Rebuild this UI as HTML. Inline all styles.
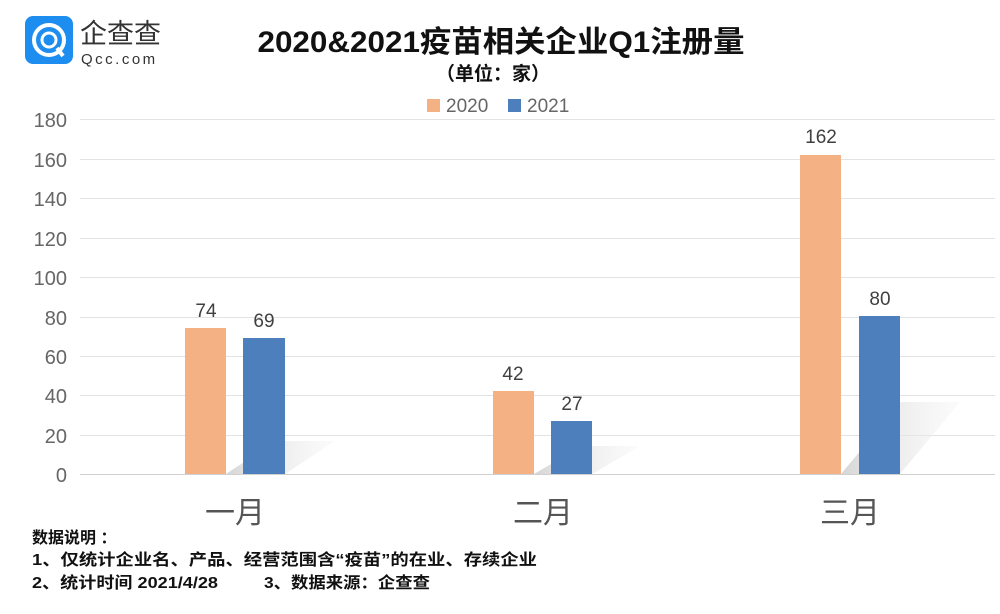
<!DOCTYPE html><html><head><meta charset="utf-8"><style>
body{margin:0;background:#fff;width:1000px;height:609px;overflow:hidden;font-family:"Liberation Sans","Noto Sans CJK SC",sans-serif}
</style></head><body>
<svg width="1000" height="609" xmlns="http://www.w3.org/2000/svg" font-family="Liberation Sans, Noto Sans CJK SC, sans-serif">
<defs><linearGradient id="sh" x1="0" y1="0" x2="1" y2="0"><stop offset="0" stop-color="#d6d6d6"/><stop offset="1" stop-color="#f2f2f2" stop-opacity="0.3"/></linearGradient></defs>
<rect x="25" y="16" width="48" height="48" rx="8" fill="#1d8ef0"/>
<circle cx="49" cy="40" r="15" fill="none" stroke="#fff" stroke-width="4"/>
<circle cx="49" cy="40" r="7" fill="none" stroke="#fff" stroke-width="3"/>
<line x1="57" y1="48" x2="63" y2="56" stroke="#fff" stroke-width="4"/>
<text x="80" y="43" font-size="27" fill="#333">企查查</text>
<text x="81" y="64" font-size="15" fill="#333" letter-spacing="2.5">Qcc.com</text>
<text x="501" y="52" font-size="30" font-weight="bold" text-anchor="middle" fill="#111" textLength="487" lengthAdjust="spacingAndGlyphs">2020&amp;2021疫苗相关企业Q1注册量</text>
<text x="493" y="80" font-size="19" font-weight="bold" text-anchor="middle" fill="#111">（单位：家）</text>
<rect x="427" y="99" width="13" height="13" fill="#f4b183"/><text x="446" y="112" font-size="19" fill="#666">2020</text>
<rect x="508" y="99" width="13" height="13" fill="#4e7fbd"/><text x="527" y="112" font-size="19" fill="#666">2021</text>
<g stroke="#e3e3e3" stroke-width="1">
<line x1="80" x2="995" y1="119.5" y2="119.5"/><line x1="80" x2="995" y1="159.5" y2="159.5"/><line x1="80" x2="995" y1="198.5" y2="198.5"/><line x1="80" x2="995" y1="238.5" y2="238.5"/><line x1="80" x2="995" y1="277.5" y2="277.5"/><line x1="80" x2="995" y1="317.5" y2="317.5"/><line x1="80" x2="995" y1="356.5" y2="356.5"/><line x1="80" x2="995" y1="395.5" y2="395.5"/><line x1="80" x2="995" y1="435.5" y2="435.5"/></g>
<line x1="80" x2="995" y1="474.5" y2="474.5" stroke="#d0d0d0"/>
<g font-size="20" fill="#666" text-anchor="end">
<text x="67" y="127">180</text><text x="67" y="167">160</text><text x="67" y="206">140</text><text x="67" y="246">120</text><text x="67" y="285">100</text><text x="67" y="325">80</text><text x="67" y="364">60</text><text x="67" y="403">40</text><text x="67" y="443">20</text><text x="67" y="482">0</text></g>
<g fill="url(#sh)">
<polygon points="226,474 285,474 335,441 276,441"/>
<polygon points="534,474 592,474 640,446 582,446"/>
<polygon points="841,474 900,474 960,402 901,402"/>
</g>
<rect x="185" y="328" width="41" height="146" fill="#f4b183"/>
<rect x="243" y="338" width="42" height="136" fill="#4e7fbd"/>
<rect x="493" y="391" width="41" height="83" fill="#f4b183"/>
<rect x="551" y="421" width="41" height="53" fill="#4e7fbd"/>
<rect x="800" y="155" width="41" height="319" fill="#f4b183"/>
<rect x="859" y="316" width="41" height="158" fill="#4e7fbd"/>
<g font-size="19" fill="#404040" text-anchor="middle">
<text x="206" y="317">74</text><text x="264" y="327">69</text>
<text x="513" y="380">42</text><text x="572" y="410">27</text>
<text x="821" y="143">162</text><text x="880" y="305">80</text></g>
<g font-size="30" fill="#555" text-anchor="middle">
<text x="235" y="523">一月</text><text x="543" y="523">二月</text><text x="850" y="523">三月</text></g>
<g font-size="16" font-weight="bold" fill="#111">
<text x="32" y="543">数据说明 ：</text>
<text x="32" y="565" textLength="505" lengthAdjust="spacingAndGlyphs">1、仅统计企业名、产品、经营范围含“疫苗”的在业、存续企业</text>
<text x="32" y="588" textLength="186" lengthAdjust="spacingAndGlyphs">2、统计时间  2021/4/28</text>
<text x="264" y="588" textLength="166" lengthAdjust="spacingAndGlyphs">3、数据来源：企查查</text></g>
</svg></body></html>
